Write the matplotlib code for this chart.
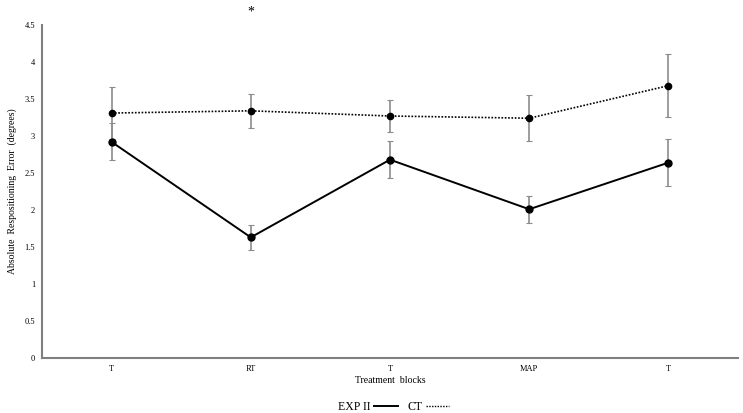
import numpy as np
import matplotlib
matplotlib.use('Agg')
import matplotlib.pyplot as plt
from matplotlib.lines import Line2D

# Treatment blocks and mean errors
blocks = ['T', 'RT', 'T', 'MAP', 'T']
exp_mean = [2.92, 1.63, 2.68, 2.01, 2.64]
exp_err = [0.25, 0.17, 0.25, 0.18, 0.32]
ct_mean = [3.31, 3.34, 3.27, 3.24, 3.68]
ct_err = [0.35, 0.23, 0.22, 0.31, 0.43]
star_block = 1
star_y = 4.68

plt.rcParams['font.family'] = ['Liberation Serif', 'DejaVu Serif']

fig = plt.figure(figsize=(7.43, 4.13), dpi=100)
ax = fig.add_axes([0.0565, 0.1332, 0.9368, 0.8063])

x = np.arange(len(blocks))

ax.errorbar(x, ct_mean, yerr=ct_err, fmt='none', ecolor='#8c8c8c',
            elinewidth=1.2, capsize=2, capthick=0.8, zorder=1)
ax.errorbar(x, exp_mean, yerr=exp_err, fmt='none', ecolor='#8c8c8c',
            elinewidth=1.2, capsize=2, capthick=0.8, zorder=1)
ax.plot(x, ct_mean, color='black', linestyle=(0, (1, 1)), lw=1.2,
        marker='o', markersize=4.5, zorder=3)
ax.plot(x, exp_mean, color='black', linestyle='-', lw=1.4,
        marker='o', markersize=5, zorder=3)

ax.text(star_block, star_y, '*', ha='center', va='center', fontsize=10,
        clip_on=False)

ax.set_xlim(-0.5, len(blocks) - 0.5)
ax.set_ylim(0, 4.5)
ax.set_xticks(x)
ax.set_xticklabels(blocks)
ax.set_yticks(np.arange(0, 4.51, 0.5))
ax.set_yticklabels(['0', '0.5', '1', '1.5', '2', '2.5', '3', '3.5', '4', '4.5'])
ax.tick_params(length=0, labelsize=6, pad=5)

for side in ['top', 'right']:
    ax.spines[side].set_visible(False)
for side in ['left', 'bottom']:
    ax.spines[side].set_color('#7f7f7f')
    ax.spines[side].set_linewidth(1.5)

ax.set_xlabel('Treatment  blocks', fontsize=7, labelpad=2)
ax.set_ylabel('Absolute  Respositioning  Error  (degrees)', fontsize=7, labelpad=5)

handles = [Line2D([], [], color='black', lw=1.4),
           Line2D([], [], color='black', lw=1.0, linestyle=(0, (1, 1)))]
fig.legend(handles, ['EXP II', 'CT'], loc='center', bbox_to_anchor=(0.53, 0.014),
           ncol=2, frameon=False, markerfirst=False, fontsize=8.5,
           handlelength=2.0, handletextpad=0.3, columnspacing=0.8)

fig.savefig('out.png', dpi=100)
